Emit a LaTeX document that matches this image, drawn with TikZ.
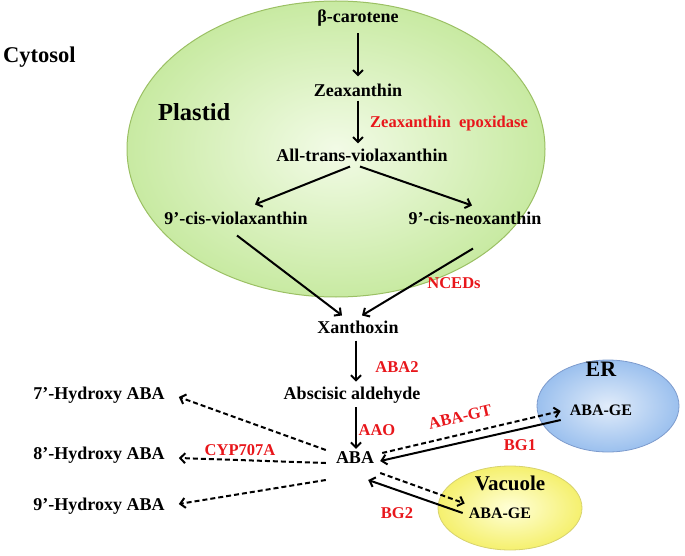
\documentclass[tikz,border=0pt]{standalone}
\usepackage{fontspec}
\setmainfont{Liberation Serif}
\usetikzlibrary{arrows.meta,shapes.geometric,calc}
\definecolor{redlab}{HTML}{E8161B}
\tikzset{
  lab/.style={font=\fontsize{18}{20}\selectfont\bfseries, inner sep=1pt},
  smalllab/.style={font=\fontsize{16}{18}\selectfont\bfseries, inner sep=1pt},
  enz/.style={font=\fontsize{16.5}{18}\selectfont\bfseries, text=redlab, inner sep=1pt},
  arr/.style={-{Straight Barb[length=5pt,width=10pt,line width=2pt]}, line width=2pt},
  darr/.style={arr, dash pattern=on 5pt off 3pt},
}
\begin{document}
\begin{tikzpicture}[x=1pt,y=-1pt]
\useasboundingbox (0,0) rectangle (685,556);
% compartments
\shade[inner color={rgb,255:red,242;green,251;blue,230}, outer color={rgb,255:red,200;green,234;blue,162}, draw={rgb,255:red,155;green,192;blue,100}, line width=1pt]
  (336,149) ellipse [x radius=209, y radius=148];
\shade[inner color={rgb,255:red,225;green,236;blue,250}, outer color={rgb,255:red,155;green,192;blue,238}, draw={rgb,255:red,125;green,155;blue,205}, line width=0.8pt]
  (608,406) ellipse [x radius=71, y radius=46];
\shade[inner color={rgb,255:red,255;green,255;blue,215}, outer color={rgb,255:red,245;green,240;blue,110}, draw={rgb,255:red,215;green,210;blue,110}, line width=0.8pt]
  (510,508) ellipse [x radius=72, y radius=42];
% titles
\node[font=\fontsize{22.5}{24}\selectfont\bfseries, anchor=west, inner sep=0pt] (cyt) at (3,57) {Cytosol};
\node[font=\fontsize{24.5}{26}\selectfont\bfseries, anchor=west, inner sep=0pt] (pla) at (158,112) {Plastid};
\node[font=\fontsize{22}{24}\selectfont\bfseries] (er) at (601,369) {ER};
\node[font=\fontsize{21}{23}\selectfont\bfseries] (vac) at (510,483) {Vacuole};
% metabolites
\node[lab] (bc) at (358,18) {β-carotene};
\node[lab] (zea) at (358,90) {Zeaxanthin};
\node[lab] (atv) at (362,155) {All-trans-violaxanthin};
\node[lab] (cv) at (236,218) {9’-cis-violaxanthin};
\node[lab] (cn) at (475,218) {9’-cis-neoxanthin};
\node[lab] (xan) at (358,327) {Xanthoxin};
\node[lab] (ald) at (352,395) {Abscisic aldehyde};
\node[lab] (aba) at (355,458) {ABA};
\node[lab] (h7) at (99,395) {7’-Hydroxy ABA};
\node[lab] (h8) at (99,455) {8’-Hydroxy ABA};
\node[lab] (h9) at (99,506) {9’-Hydroxy ABA};
\node[smalllab] (ge1) at (601,410) {ABA-GE};
\node[smalllab] (ge2) at (500,513) {ABA-GE};
% enzymes
\node[enz, anchor=west] (zep) at (369,124) {Zeaxanthin\ \ epoxidase};
\node[enz] (nced) at (454,283) {NCEDs};
\node[enz] (aba2) at (397,367) {ABA2};
\node[enz] (aao) at (377,430) {AAO};
\node[enz] (cyp) at (240,450) {CYP707A};
\node[enz, rotate=13] (gt) at (460,417) {ABA-GT};
\node[enz] (bg1) at (520,445) {BG1};
\node[enz] (bg2) at (397,513) {BG2};
% arrows (plastid pathway)
\draw[arr] ($(bc.south)+(0,6)$) -- ($(zea.north)+(0,-6)$);
\draw[arr] ($(zea.south)+(0,3)$) -- ($(atv.north)+(-4,-4)$);
\draw[arr] ($(atv.south)+(-12,4)$) -- ($(cv.north)+(19,-6)$);
\draw[arr] ($(atv.south)+(-2,4)$) -- ($(cn.north)+(-3,-5)$);
\draw[arr] ($(cv.south)+(1,10)$) -- ($(xan.north)+(-16,-4)$);
\draw[arr] ($(cn.south)+(-2,23)$) -- ($(xan.north)+(4,-4)$);
\draw[arr] ($(xan.south)+(-2,6)$) -- ($(ald.north)+(4,-4)$);
\draw[arr] ($(ald.south)+(4,3)$) -- ($(aba.north)+(1,-2)$);
% ABA catabolism
\draw[darr] ($(aba.west)+(-9,-8)$) -- ($(h7.east)+(13,2)$);
\draw[darr] ($(aba.west)+(-9,5)$) -- ($(h8.east)+(13,3)$);
\draw[darr] ($(aba.west)+(-9,22)$) -- ($(h9.east)+(13,-2)$);
% conjugation
\draw[darr] ($(aba.east)+(7,-5)$) -- ($(ge1.west)+(-8,1)$);
\draw[arr]  ($(ge1.west)+(-8,10)$) -- ($(aba.east)+(5,3)$);
\draw[darr] ($(aba.east)+(5,15)$) -- ($(ge2.north west)+(-3,-3)$);
\draw[arr]  ($(ge2.west)+(-5,0)$) -- ($(aba.east)+(-7,22)$);
\end{tikzpicture}
\end{document}
